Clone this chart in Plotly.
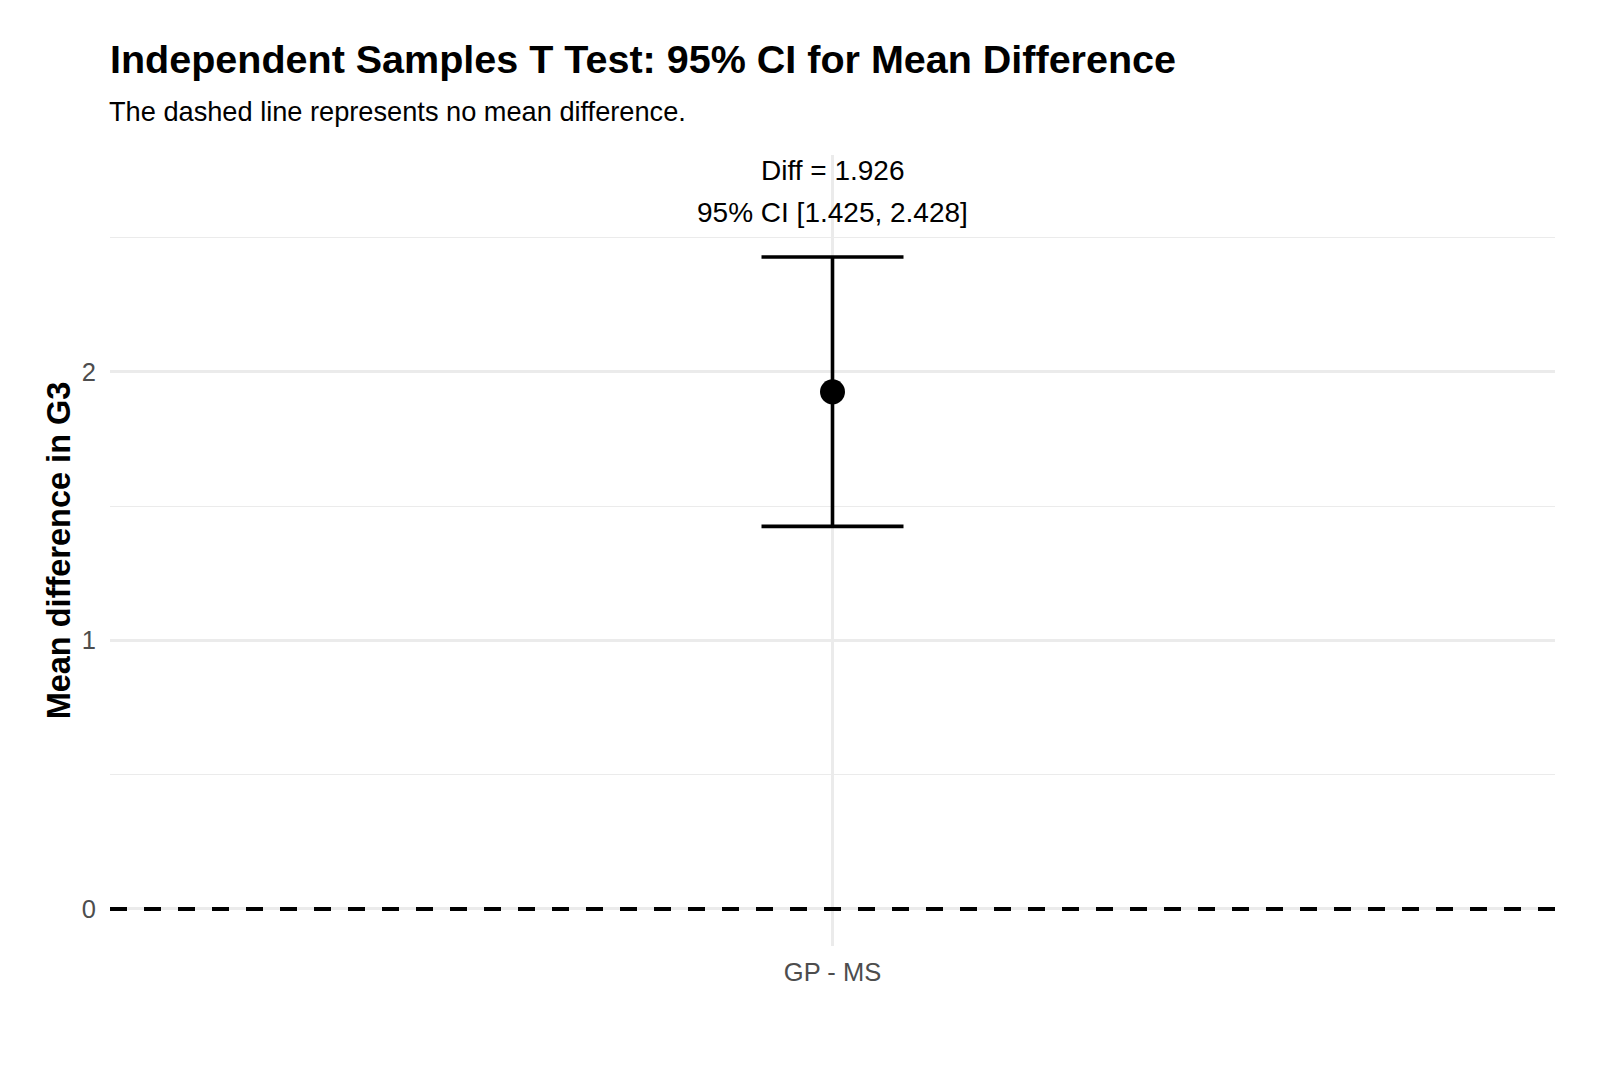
import plotly.graph_objects as go

# Data
comparison = ["GP - MS"]
mean_diff = [1.926]
ci_lower = [1.425]
ci_upper = [2.428]
y_ticks = [0, 1, 2]
reference_value = 0

FONT = "Liberation Sans, Arial, Helvetica, sans-serif"

fig = go.Figure()

fig.add_trace(go.Scatter(
    x=comparison,
    y=mean_diff,
    mode="markers",
    marker=dict(color="black", size=25),
    error_y=dict(
        type="data",
        symmetric=False,
        array=[u - m for u, m in zip(ci_upper, mean_diff)],
        arrayminus=[m - l for m, l in zip(mean_diff, ci_lower)],
        color="black",
        thickness=3.6,
        width=71,
    ),
    showlegend=False,
    hoverinfo="skip",
))

# dashed reference line
fig.add_shape(
    type="line", xref="paper", yref="y",
    x0=0, x1=1, y0=reference_value, y1=reference_value,
    line=dict(color="black", width=4, dash="17px,17px"),
    layer="above",
)

# labels above the error bar
for c, m, l, u in zip(comparison, mean_diff, ci_lower, ci_upper):
    fig.add_annotation(x=c, y=u, text=f"Diff = {m:.3f}", showarrow=False,
                       yshift=87, yanchor="middle",
                       font=dict(family=FONT, size=28, color="black"))
    fig.add_annotation(x=c, y=u, text=f"95% CI [{l:.3f}, {u:.3f}]", showarrow=False,
                       yshift=45, yanchor="middle",
                       font=dict(family=FONT, size=28, color="black"))

# subtitle
fig.add_annotation(
    xref="paper", yref="paper", x=0, y=1.0556, xanchor="left", yanchor="middle",
    xshift=-3,
    text="The dashed line represents no mean difference.", showarrow=False,
    font=dict(family=FONT, size=27.2, color="black"),
)

fig.update_layout(
    width=1600, height=1067,
    margin=dict(l=110, r=45, t=155, b=121),
    paper_bgcolor="white", plot_bgcolor="white",
    font=dict(family=FONT),
    title=dict(
        text="<b>Independent Samples T Test: 95% CI for Mean Difference</b>",
        x=110 / 1600, xanchor="left", xref="container",
        y=1 - 59 / 1067, yanchor="middle", yref="container",
        font=dict(family=FONT, size=39.5, color="black"),
    ),
    xaxis=dict(
        type="category",
        range=[-0.6, 0.6],
        showgrid=True, gridcolor="#ebebeb", gridwidth=2.5,
        showline=False, zeroline=False, ticks="",
        tickfont=dict(family=FONT, size=25.5, color="#4d4d4d"),
        ticklabelstandoff=8,
    ),
    yaxis=dict(
        range=[-0.138, 2.808],
        tickvals=y_ticks,
        showgrid=True, gridcolor="#ebebeb", gridwidth=2.5,
        minor=dict(dtick=0.5, tick0=0, showgrid=True, gridcolor="#ebebeb", gridwidth=1.3),
        showline=False, zeroline=False, ticks="",
        tickfont=dict(family=FONT, size=25.5, color="#4d4d4d"),
        ticklabelstandoff=13,
        title=dict(text="<b>Mean difference in G3</b>", standoff=1,
                   font=dict(family=FONT, size=32.5, color="black")),
    ),
)

fig.write_html("out.html")
